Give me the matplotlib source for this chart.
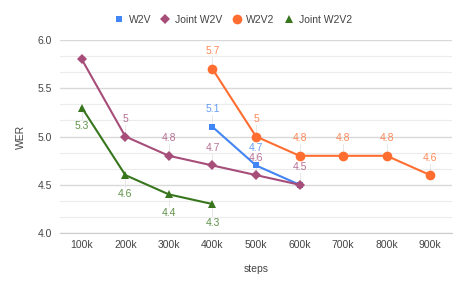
import matplotlib
matplotlib.use("Agg")
import matplotlib.pyplot as plt
import numpy as np

plt.rcParams['font.family'] = ['Liberation Sans', 'DejaVu Sans']

categories = ["100k", "200k", "300k", "400k", "500k", "600k", "700k", "800k", "900k"]
w2v = [None, None, None, 5.1, 4.7, 4.5, None, None, None]
joint_w2v = [5.8, 5.0, 4.8, 4.7, 4.6, 4.5, None, None, None]
w2v2 = [None, None, None, 5.7, 5.0, 4.8, 4.8, 4.8, 4.6]
joint_w2v2 = [5.3, 4.6, 4.4, 4.3, None, None, None, None, None]

# labels shown in the reference (some are hidden by overlap)
w2v_show = [False, False, False, True, True, False, False, False, False]
joint_w2v_show = [False, True, True, True, True, True, False, False, False]
w2v2_show = [False, False, False, True, True, True, True, True, True]
joint_w2v2_show = [True, True, True, True, False, False, False, False, False]

series = [
    ("W2V", w2v, w2v_show, "#4285F4", "s", 5, "above"),
    ("Joint W2V", joint_w2v, joint_w2v_show, "#A64D79", "D", 5.5, "above"),
    ("W2V2", w2v2, w2v2_show, "#FF6D31", "o", 7, "above"),
    ("Joint W2V2", joint_w2v2, joint_w2v2_show, "#38761D", "^", 6, "below"),
]

fig = plt.figure(figsize=(4.66, 2.88), dpi=100)
ax = fig.add_axes([60/466, 1-233/288, 392/466, 193/288])

x = np.arange(len(categories))
handles = []
for name, vals, show, color, marker, ms, pos in series:
    xs = [i for i, v in zip(x, vals) if v is not None]
    ys = [v for v in vals if v is not None]
    sh = [s for s, v in zip(show, vals) if v is not None]
    h, = ax.plot(xs, ys, color=color, marker=marker, markersize=ms, lw=1.5,
                 markeredgewidth=0, label=name, zorder=3)
    handles.append(h)
    for xi, yi, s in zip(xs, ys, sh):
        if not s:
            continue
        lab = f"{yi:g}"
        if pos == "above":
            ax.plot([xi, xi], [yi, yi + 0.12], color="#e3e3e3", lw=0.6, zorder=1)
            ax.text(xi, yi + 0.13, lab, ha="center", va="bottom", fontsize=7.5,
                    color=color, alpha=0.8)
        else:
            ax.plot([xi, xi], [yi, yi - 0.12], color="#e3e3e3", lw=0.6, zorder=1)
            ax.text(xi, yi - 0.14, lab, ha="center", va="top", fontsize=7.5,
                    color=color, alpha=0.8)

ax.set_xlim(-0.5, 8.5)
ax.set_ylim(4.0, 6.0)
ax.set_xticks(x)
ax.set_xticklabels(categories)
ax.set_yticks([4.0, 4.5, 5.0, 5.5, 6.0])
ax.set_yticklabels(["4.0", "4.5", "5.0", "5.5", "6.0"])
ax.set_yticks(np.arange(4.0, 6.001, 0.5/3), minor=True)
ax.grid(axis="y", which="major", color="#d9d9d9", lw=1.0, zorder=0)
ax.grid(axis="y", which="minor", color="#ececec", lw=0.8, zorder=0)
ax.tick_params(axis="both", which="both", length=0, labelsize=7.5, colors="#444444")
ax.tick_params(axis="x", pad=5)
ax.tick_params(axis="y", pad=6)
for s in ["top", "right", "left"]:
    ax.spines[s].set_visible(False)
ax.spines["bottom"].set_color("#cccccc")
ax.set_axisbelow(True)

ax.set_xlabel("steps", fontsize=7.5, color="#444444", labelpad=10)
ax.set_ylabel("WER", fontsize=7.5, color="#444444", labelpad=8)

leg = fig.legend(handles=handles, loc="center", bbox_to_anchor=(0.5, 1 - 20/288),
                 ncol=4, frameon=False, fontsize=7.5, handlelength=0.9,
                 handletextpad=0.5, columnspacing=0.9)
for t in leg.get_texts():
    t.set_color("#444444")
for lh in leg.legend_handles:
    lh.set_linestyle("none")

fig.savefig("out.png", dpi=100)
